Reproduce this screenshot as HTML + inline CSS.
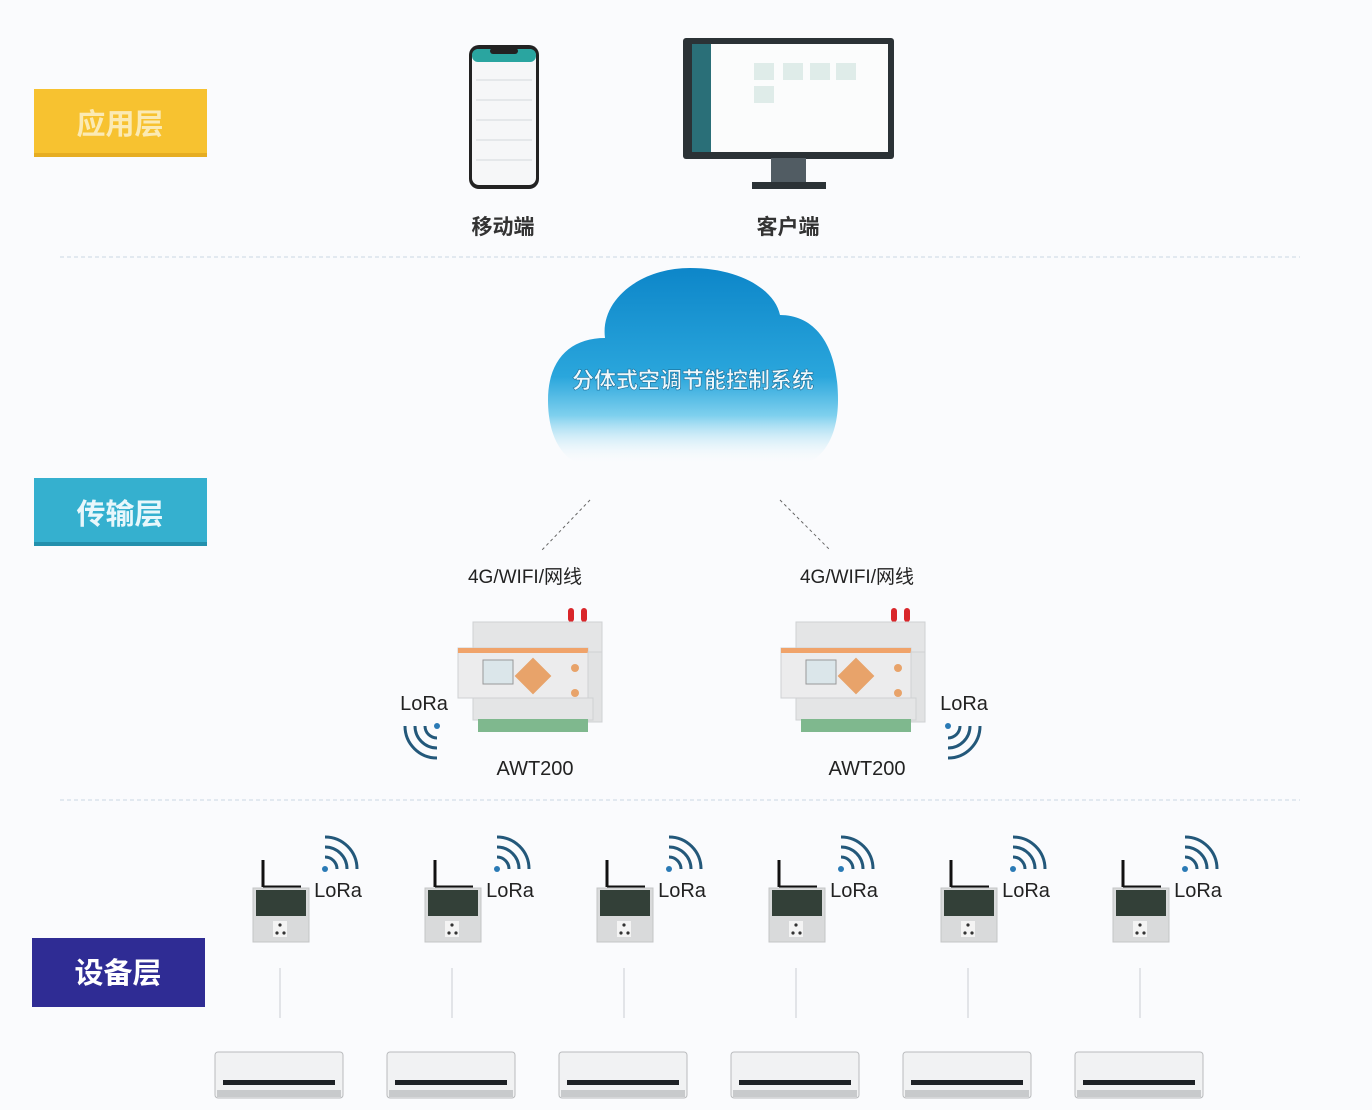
<!DOCTYPE html>
<html><head><meta charset="utf-8"><style>
html,body{margin:0;padding:0;background:#fafbfd;}
svg{display:block}
text{font-family:"Liberation Sans","Noto Sans CJK SC",sans-serif;}
</style></head><body>
<svg width="1372" height="1110" viewBox="0 0 1372 1110" xmlns="http://www.w3.org/2000/svg">
<defs>
<linearGradient id="cl" x1="0" y1="0" x2="0" y2="1">
<stop offset="0" stop-color="#0d86c9"/><stop offset="0.55" stop-color="#2aa6dc"/><stop offset="0.75" stop-color="#7fd0ee"/><stop offset="1" stop-color="#fafbfd" stop-opacity="0"/>
</linearGradient>
<g id="dev">
<rect x="110" y="0" width="6" height="14" rx="3" fill="#d9262a"/>
<rect x="123" y="0" width="6" height="14" rx="3" fill="#d9262a"/>
<rect x="15" y="14" width="129" height="30" fill="#e4e5e6" stroke="#cfd1d3"/>
<rect x="0" y="40" width="130" height="50" fill="#ececed" stroke="#cfd1d3"/>
<rect x="0" y="40" width="130" height="5" fill="#f0a36a"/>
<rect x="130" y="44" width="14" height="70" fill="#e1e2e3" stroke="#cfd1d3"/>
<rect x="25" y="52" width="30" height="24" fill="#dbe6ea" stroke="#999"/>
<rect x="62" y="55" width="26" height="26" fill="#e8a36a" transform="rotate(45 75 68)"/>
<circle cx="117" cy="60" r="4" fill="#e8a36a"/><circle cx="117" cy="85" r="4" fill="#e8a36a"/>
<rect x="15" y="90" width="120" height="22" fill="#e4e5e6" stroke="#cfd1d3"/>
<rect x="20" y="111" width="110" height="13" fill="#7fb88e"/>
</g>
<g id="sock">
<line x1="10" y1="-27" x2="10" y2="0" stroke="#111" stroke-width="3"/>
<line x1="10" y1="0" x2="48" y2="0" stroke="#111" stroke-width="3"/>
<rect x="0" y="1" width="56" height="54" fill="#d9dadb" stroke="#c4c5c6"/>
<rect x="3" y="3" width="50" height="26" fill="#334038"/>
<rect x="20" y="34" width="14" height="16" fill="#f4f4f4"/>
<circle cx="24" cy="46" r="1.6" fill="#333"/><circle cx="31" cy="46" r="1.6" fill="#333"/><circle cx="27" cy="38" r="1.6" fill="#333"/>
</g>
<g id="ac">
<rect x="0" y="0" width="128" height="46" rx="3" fill="#f1f2f3" stroke="#b9bbbd"/>
<rect x="8" y="28" width="112" height="5" fill="#1e2226"/>
<rect x="2" y="38" width="124" height="7" fill="#c8cacc"/>
</g>
<g id="wv" fill="none" stroke="#23587a" stroke-width="3">
<circle cx="0" cy="0" r="3" fill="#2a7ab5" stroke="none"/>
<path d="M0,-12 A12 12 0 0 1 12,0"/><path d="M0,-22 A22 22 0 0 1 22,0"/><path d="M0,-32 A32 32 0 0 1 32,0"/>
</g>
</defs>

<rect x="34" y="89" width="173" height="68" fill="#f7c230"/>
<rect x="34" y="153" width="173" height="4" fill="#e6ad22"/>
<text x="120" y="134" text-anchor="middle" font-size="29" font-weight="bold" fill="#fbeab4">应用层</text>
<rect x="34" y="478" width="173" height="68" fill="#35b0cf"/>
<rect x="34" y="542" width="173" height="4" fill="#2390ad"/>
<text x="120" y="524" text-anchor="middle" font-size="29" font-weight="bold" fill="#e8f7fb">传输层</text>
<rect x="32" y="938" width="173" height="69" fill="#2f2c94"/>
<text x="118" y="983" text-anchor="middle" font-size="29" font-weight="bold" fill="#fff">设备层</text>

<line x1="60" y1="257" x2="1300" y2="257" stroke="#c9d7e2" stroke-dasharray="4 3"/>
<line x1="60" y1="800" x2="1300" y2="800" stroke="#c9d7e2" stroke-dasharray="4 3"/>

<rect x="469" y="45" width="70" height="144" rx="10" fill="#222"/>
<rect x="472" y="49" width="64" height="136" rx="7" fill="#f6f7f8"/>
<rect x="472" y="49" width="64" height="13" rx="6" fill="#2aa5a0"/>
<rect x="490" y="48" width="28" height="6" rx="3" fill="#222"/>
<g stroke="#d4d8dc"><line x1="476" y1="80" x2="532" y2="80"/><line x1="476" y1="100" x2="532" y2="100"/><line x1="476" y1="120" x2="532" y2="120"/><line x1="476" y1="140" x2="532" y2="140"/><line x1="476" y1="160" x2="532" y2="160"/></g>
<text x="503" y="234" text-anchor="middle" font-size="21" font-weight="bold" fill="#333">移动端</text>

<rect x="683" y="38" width="211" height="121" rx="3" fill="#2b3236"/>
<rect x="692" y="44" width="19" height="108" fill="#2a6f78"/>
<rect x="711" y="44" width="177" height="108" fill="#fbfcfc"/>
<g fill="#dfece9"><rect x="754" y="63" width="20" height="17"/><rect x="783" y="63" width="20" height="17"/><rect x="810" y="63" width="20" height="17"/><rect x="836" y="63" width="20" height="17"/><rect x="754" y="86" width="20" height="17"/></g>
<rect x="771" y="158" width="35" height="24" fill="#515c63"/>
<rect x="752" y="182" width="74" height="7" fill="#2b3236"/>
<text x="788" y="234" text-anchor="middle" font-size="21" font-weight="bold" fill="#333">客户端</text>

<path d="M548,400 C548,360 570,338 605,338 C600,300 640,268 690,268 C740,268 775,290 780,315 C815,315 838,345 838,400 C838,440 820,462 800,465 L585,465 C565,462 548,440 548,400 Z" fill="url(#cl)"/>
<text x="693" y="388" text-anchor="middle" font-size="22" font-weight="bold" fill="#eef8fc" stroke="#1a6f9a" stroke-width="0.6">分体式空调节能控制系统</text>

<line x1="590" y1="500" x2="542" y2="550" stroke="#666" stroke-dasharray="3 3"/>
<line x1="780" y1="500" x2="830" y2="550" stroke="#666" stroke-dasharray="3 3"/>
<text x="525" y="583" text-anchor="middle" font-size="19" fill="#222">4G/WIFI/网线</text>
<text x="857" y="583" text-anchor="middle" font-size="19" fill="#222">4G/WIFI/网线</text>

<use href="#dev" transform="translate(458,608)"/>
<use href="#dev" transform="translate(781,608)"/>
<text x="535" y="775" text-anchor="middle" font-size="20" fill="#222">AWT200</text>
<text x="867" y="775" text-anchor="middle" font-size="20" fill="#222">AWT200</text>
<text x="424" y="710" text-anchor="middle" font-size="20" fill="#222">LoRa</text>
<text x="964" y="710" text-anchor="middle" font-size="20" fill="#222">LoRa</text>
<use href="#wv" transform="translate(437,726) rotate(180)"/>
<use href="#wv" transform="translate(948,726) rotate(90)"/>

<g>
<use href="#sock" transform="translate(253,887)"/><use href="#wv" transform="translate(325,869)"/>
<text x="338" y="897" text-anchor="middle" font-size="20" fill="#222">LoRa</text>
<line x1="280" y1="968" x2="280" y2="1018" stroke="#c9cdd2"/><use href="#ac" transform="translate(215,1052)"/>
</g>
<g transform="translate(172,0)">
<use href="#sock" transform="translate(253,887)"/><use href="#wv" transform="translate(325,869)"/>
<text x="338" y="897" text-anchor="middle" font-size="20" fill="#222">LoRa</text>
<line x1="280" y1="968" x2="280" y2="1018" stroke="#c9cdd2"/><use href="#ac" transform="translate(215,1052)"/>
</g>
<g transform="translate(344,0)">
<use href="#sock" transform="translate(253,887)"/><use href="#wv" transform="translate(325,869)"/>
<text x="338" y="897" text-anchor="middle" font-size="20" fill="#222">LoRa</text>
<line x1="280" y1="968" x2="280" y2="1018" stroke="#c9cdd2"/><use href="#ac" transform="translate(215,1052)"/>
</g>
<g transform="translate(516,0)">
<use href="#sock" transform="translate(253,887)"/><use href="#wv" transform="translate(325,869)"/>
<text x="338" y="897" text-anchor="middle" font-size="20" fill="#222">LoRa</text>
<line x1="280" y1="968" x2="280" y2="1018" stroke="#c9cdd2"/><use href="#ac" transform="translate(215,1052)"/>
</g>
<g transform="translate(688,0)">
<use href="#sock" transform="translate(253,887)"/><use href="#wv" transform="translate(325,869)"/>
<text x="338" y="897" text-anchor="middle" font-size="20" fill="#222">LoRa</text>
<line x1="280" y1="968" x2="280" y2="1018" stroke="#c9cdd2"/><use href="#ac" transform="translate(215,1052)"/>
</g>
<g transform="translate(860,0)">
<use href="#sock" transform="translate(253,887)"/><use href="#wv" transform="translate(325,869)"/>
<text x="338" y="897" text-anchor="middle" font-size="20" fill="#222">LoRa</text>
<line x1="280" y1="968" x2="280" y2="1018" stroke="#c9cdd2"/><use href="#ac" transform="translate(215,1052)"/>
</g>
</svg>
</body></html>
